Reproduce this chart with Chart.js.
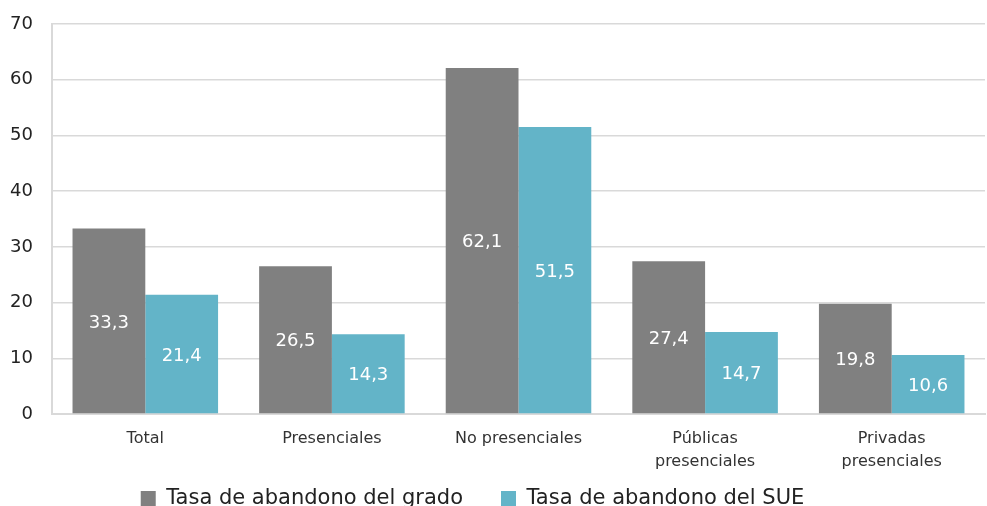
<!DOCTYPE html>
<html>
<head>
<meta charset="utf-8">
<script src="https://cdn.jsdelivr.net/npm/chart.js@4/dist/chart.umd.min.js"></script>
<style>
  html, body { margin: 0; padding: 0; background: #fff; overflow: hidden; }
  #wrap { position: relative; width: 987px; height: 542px; }
</style>
</head>
<body>
<div id="wrap"><canvas id="abandonoChart"></canvas></div>
<script>
var categorias = ['Total', 'Presenciales', 'No presenciales', ['Públicas', 'presenciales'], ['Privadas', 'presenciales']];
var tasaGrado = [33.3, 26.5, 62.1, 27.4, 19.8];
var tasaSUE = [21.4, 14.3, 51.5, 14.7, 10.6];
var ticksY = [0, 10, 20, 30, 40, 50, 60, 70];

var fontFamily = "'DejaVu Sans', sans-serif";

// etiquetas blancas en el centro de cada barra
var etiquetasBarras = {
    id: 'etiquetasBarras',
    afterDatasetsDraw: function(chart) {
        var ctx = chart.ctx;
        ctx.save();
        ctx.fillStyle = '#ffffff';
        ctx.font = '18px ' + fontFamily;
        ctx.textAlign = 'center';
        ctx.textBaseline = 'middle';
        chart.data.datasets.forEach(function(ds, i) {
            chart.getDatasetMeta(i).data.forEach(function(bar, j) {
                var txt = ds.data[j].toFixed(1).replace('.', ',');
                ctx.fillText(txt, bar.x, (bar.y + bar.base) / 2 + 2);
            });
        });
        ctx.restore();
    }
};

// sube la leyenda para que quede pegada a las etiquetas del eje x
var subirLeyenda = {
    id: 'subirLeyenda',
    afterLayout: function(chart) {
        var lg = chart.legend;
        if (!lg) return;
        var h = lg.height;
        lg.top = 450;
        lg.bottom = 450 + h;
        lg.left -= 20;
        lg.right -= 20;
    }
};

new Chart(document.getElementById('abandonoChart'), {
    type: 'bar',
    data: {
        labels: categorias,
        datasets: [{
            label: 'Tasa de abandono del grado',
            data: tasaGrado,
            backgroundColor: '#808080'
        }, {
            label: 'Tasa de abandono del SUE',
            data: tasaSUE,
            backgroundColor: '#63b4c8'
        }]
    },
    options: {
        responsive: true,
        maintainAspectRatio: false,
        animation: false,
        layout: { padding: { top: 0, right: 2, left: 0, bottom: 0 } },
        datasets: {
            bar: { barPercentage: 1, categoryPercentage: 0.78 }
        },
        plugins: {
            legend: {
                position: 'bottom',
                labels: {
                    boxWidth: 15,
                    boxHeight: 15,
                    padding: 38,
                    color: '#222',
                    font: { family: fontFamily, size: 21 }
                }
            },
            tooltip: { enabled: false }
        },
        scales: {
            x: {
                afterFit: function(scale) { scale.height = 59; },
                grid: { display: false },
                border: { color: '#d9d9d9', width: 2 },
                ticks: {
                    color: '#333',
                    padding: 6,
                    font: { family: fontFamily, size: 16, lineHeight: 1.4 }
                }
            },
            y: {
                min: 0,
                max: 70,
                afterFit: function(scale) {
                    scale.width = 52;
                    scale.paddingTop = 24;
                },
                afterBuildTicks: function(scale) {
                    scale.ticks = ticksY.map(function(v) { return { value: v }; });
                },
                grid: { color: '#d9d9d9', lineWidth: 1.5, drawTicks: false },
                border: { color: '#d9d9d9', width: 2 },
                ticks: {
                    color: '#222',
                    padding: 19,
                    font: { family: fontFamily, size: 18 }
                }
            }
        }
    },
    plugins: [etiquetasBarras, subirLeyenda]
});
</script>
</body>
</html>
